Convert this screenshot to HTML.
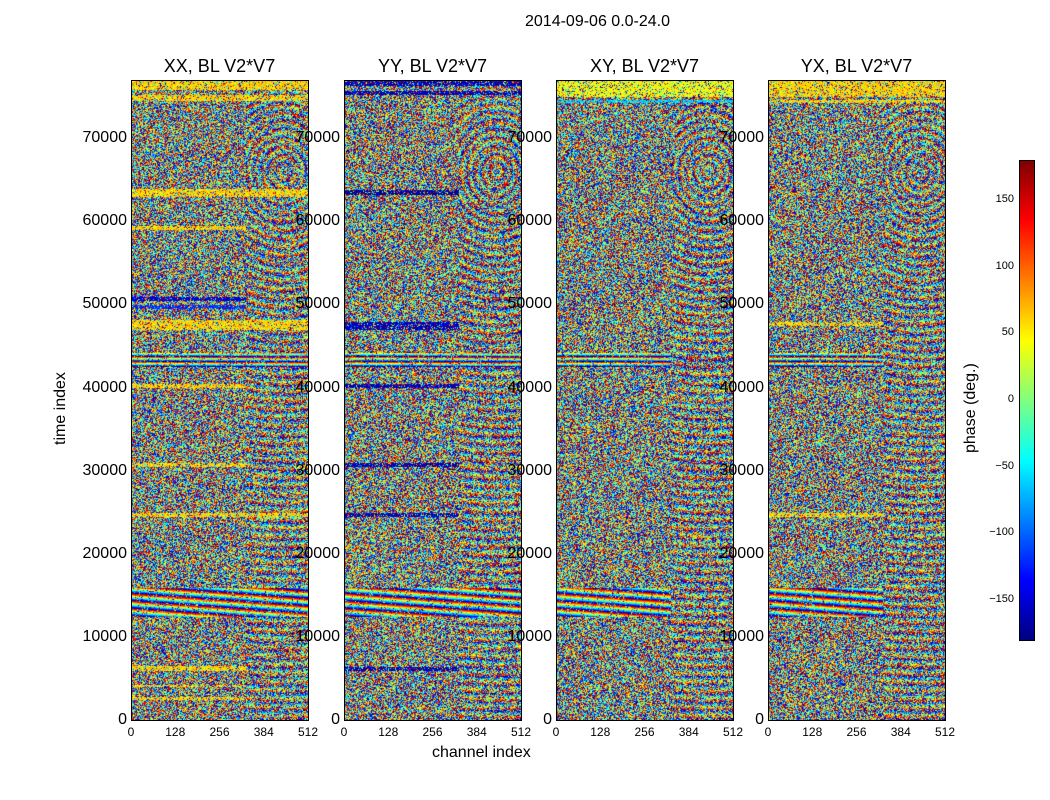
<!DOCTYPE html>
<html><head><meta charset="utf-8">
<style>
body{margin:0;background:#fff;font-family:"Liberation Sans",sans-serif;}
#wrap{position:relative;width:1050px;height:800px;overflow:hidden;background:#fff}
.t{position:absolute;white-space:nowrap;color:#000}
canvas{position:absolute}
.frame{position:absolute;border:1px solid #000;box-sizing:border-box}
</style></head>
<body>
<div id="wrap">
<div class="t" style="left:525px;top:13px;font-size:16px">2014-09-06 0.0-24.0</div>
<div class="t" style="left:432px;top:744px;font-size:16px">channel index</div>
<div class="t" style="left:52px;top:445px;font-size:16px;transform:rotate(-90deg);transform-origin:0 0">time index</div>
<div class="t" style="left:962px;top:453px;font-size:16px;transform:rotate(-90deg);transform-origin:0 0">phase (deg.)</div>
<canvas id="cb" width="15" height="480" style="left:1019px;top:160px"></canvas>
<div class="frame" style="left:1019px;top:160px;width:16px;height:481px"></div>
</div>
<script>
const panelTitles=["XX, BL V2*V7","YY, BL V2*V7","XY, BL V2*V7","YX, BL V2*V7"];
const panelLefts=[131,344,556,768];
const yTicks=[0,10000,20000,30000,40000,50000,60000,70000];
const xTicks=[0,128,256,384,512];
const cbTicks=[-150,-100,-50,0,50,100,150];
const tMax=77000, chMax=512;
// bands: [tStart,tEnd,phase,chEnd]
const bandsXX=[[75800,77000,60,512],[74500,75200,60,512],[63000,64000,60,512],[59000,59500,60,330],[50500,51000,-150,330],[49500,50000,-120,330],[47000,48200,60,512],[40000,40500,60,330],[30500,31000,60,330],[24500,25000,60,512],[6000,6500,60,330],[4000,4300,60,330],[2500,2800,60,330]];
const bandsYY=[[76300,77000,-160,512],[75300,75700,-160,512],[63200,63800,-170,330],[47000,48000,-160,330],[40000,40500,-160,330],[30500,31000,-160,330],[24500,25000,-160,330],[6000,6400,-160,330]];
const bandsXY=[[75000,77000,40,512],[74300,74600,-60,512]];
const bandsYX=[[75000,77000,60,512],[74300,74600,60,512],[47500,48000,60,330],[24500,25000,60,330]];
const allBands=[bandsXX,bandsYY,bandsXY,bandsYX];
// fringe zones: [tStart,tEnd,chSlope,tSlope]
const fringeBands=[[12500,16000,1.2,0.4],[42500,44200,0.1,0.6]];
function jet(v){
  const f=x=>Math.max(0,Math.min(1,x));
  return [f(1.5-Math.abs(4*v-3)),f(1.5-Math.abs(4*v-2)),f(1.5-Math.abs(4*v-1))].map(c=>Math.round(c*255));
}
function h(a,b,s){let x=(a*374761393+b*668265263+s*982451653)|0;x=(x^(x>>>13))*1274126177|0;x^=x>>>16;return (x>>>0)/4294967296;}
const W=177,H=640;
const sx=c=>c/chMax*W, sy=t=>H-t/tMax*H;
const wrap=document.getElementById('wrap');
panelLefts.forEach((L,p)=>{
  const cv=document.createElement('canvas');cv.width=W;cv.height=H;cv.style.left=L+'px';cv.style.top='80px';
  
  
  wrap.appendChild(cv);
  const ctx=cv.getContext('2d');const im=ctx.createImageData(W,H);
  const fEnd=p<2?512:330;
  for(let y=0;y<H;y++){const t=(H-y)/H*tMax;for(let x=0;x<W;x++){const ch=x/W*chMax;
    let ph=h(x,y,p+1)*360-180;
    if(ch>330){const r=Math.hypot((ch-440)*1.2,(t-66000)/40);const fr=((r*14)%360)-180; if(h(x,y,p+7)<0.3)ph=fr;}
    for(const fb of fringeBands){if(t>fb[0]&&t<fb[1]&&ch<fEnd&&h(x,y,p+5)<0.8){ph=((ch*fb[2]+t*fb[3])%360+360)%360-180;}}
    for(const b of allBands[p]){if(t>=b[0]&&t<b[1]&&ch<=b[3]&&h(x,y,p+3)<0.7)ph=b[2]+h(x,y,9)*30-15;}
    const c=jet((ph+180)/360);const i=(y*W+x)*4;im.data[i]=c[0];im.data[i+1]=c[1];im.data[i+2]=c[2];im.data[i+3]=255;}}
  ctx.putImageData(im,0,0);
  const fr=document.createElement('div');fr.className='frame';fr.style.cssText=`left:${L}px;top:80px;width:${W+1}px;height:${H+1}px`;
  
  
  wrap.appendChild(fr);
  const tt=document.createElement('div');tt.className='t';tt.textContent=panelTitles[p];
  tt.style.cssText=`left:${L}px;width:${W}px;text-align:center;top:56px;font-size:18px`;
  
  
  wrap.appendChild(tt);
  yTicks.forEach(v=>{const d=document.createElement('div');d.className='t';d.textContent=v;
    d.style.cssText=`right:${1050-L+4}px;top:${80+sy(v)-9}px;font-size:16px`;
    
    
    wrap.appendChild(d);});
  xTicks.forEach(v=>{const d=document.createElement('div');d.className='t';d.textContent=v;
    d.style.cssText=`left:${L+sx(v)-20}px;width:40px;text-align:center;top:725px;font-size:12px`;
    
    
    wrap.appendChild(d);});
});
const cb=document.getElementById('cb').getContext('2d');
for(let y=0;y<480;y++){const c=jet(1-y/480);cb.fillStyle=`rgb(${c})`;cb.fillRect(0,y,15,1);}
cbTicks.forEach(v=>{const y=160+480*(180-v)/360;const d=document.createElement('div');d.className='t';
  d.textContent=v<0?'\u2212'+(-v):v;d.style.cssText=`right:${1050-1014}px;top:${y-7}px;font-size:11px`;
  
  
  wrap.appendChild(d);});
</script>
</body></html>
